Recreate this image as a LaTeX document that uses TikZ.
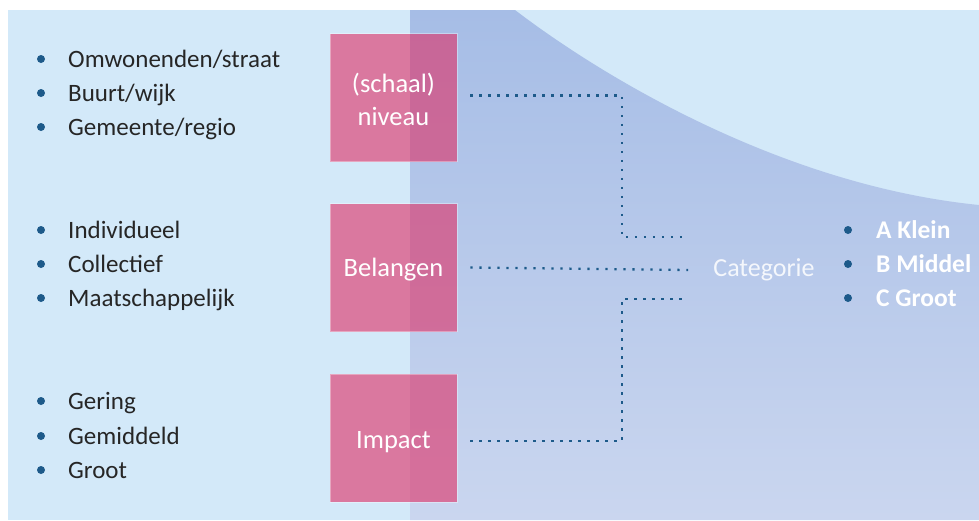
\documentclass[tikz,border=0pt]{standalone}
\usepackage{fontspec}
\setmainfont{Carlito}
\usetikzlibrary{positioning}

\definecolor{lichtblauw}{HTML}{D3E9F9}
\definecolor{vlakboven}{HTML}{A6BDE6}
\definecolor{vlakonder}{HTML}{CAD6EF}
\definecolor{roze}{HTML}{E0285F}
\definecolor{stipblauw}{HTML}{1D5A8A}
\definecolor{tekstgrijs}{HTML}{262626}

\begin{document}
\begin{tikzpicture}[x=1pt,y=-1pt,
  every node/.style={inner sep=0pt},
  vak/.style={fill=roze,fill opacity=0.58,draw=white,draw opacity=0.35,line width=0.6pt,
    minimum width=127pt,minimum height=128pt},
  vaktekst/.style={text=white,align=center,font=\fontsize{26.5}{33}\selectfont},
  item/.style={anchor=base west,text=tekstgrijs,font=\fontsize{25}{29}\selectfont},
  klasse/.style={anchor=base west,text=white,font=\bfseries\fontsize{25.5}{29}\selectfont},
  bol/.style={fill=stipblauw},
  stip/.style={draw=stipblauw,line width=2.3pt,dash pattern=on 2.3pt off 6.7pt}]
\useasboundingbox (0,0) rectangle (979,520);

% achtergrond
\fill[lichtblauw] (8,10) rectangle (979,520);
\shade[top color=vlakboven,bottom color=vlakonder]
  (410,10) -- (515,10) .. controls (600,75) and (780,185) .. (979,205)
  -- (979,520) -- (410,520) -- cycle;

% vakken
\node[vak] (niveau) at (393.5,97.5) {};
\node[vak] (belang) at (393.5,267.5) {};
\node[vak] (impact) at (393.5,438) {};
\node[vaktekst] (tniveau) at ([yshift=-2pt]niveau) {(schaal)\\niveau};
\node[vaktekst,anchor=base] (tbelang) at ([yshift=-9pt]belang) {Belangen};
\node[vaktekst,anchor=base] (timpact) at ([yshift=-10pt]impact) {Impact};

% lijstjes links
\node[item] (n1) at (68,67) {Omwonenden/straat};
\node[item] (n2) at (68,101) {Buurt/wijk};
\node[item] (n3) at (68,135) {Gemeente/regio};
\node[item] (b1) at (68,238) {Individueel};
\node[item] (b2) at (68,272) {Collectief};
\node[item] (b3) at (68,306) {Maatschappelijk};
\node[item] (i1) at (68,409) {Gering};
\node[item] (i2) at (68,444) {Gemiddeld};
\node[item] (i3) at (68,478) {Groot};
\foreach \n in {n1,n2,n3,b1,b2,b3,i1,i2,i3}
  \fill[bol] ([xshift=-27pt,yshift=8pt]\n.base west) circle (4pt);

% categorie
\node[text=white,text opacity=0.85,font=\fontsize{26}{30}\selectfont] (cat) at (764,270) {Categorie};
\node[klasse] (kA) at (876,238) {A Klein};
\node[klasse] (kB) at (876,272) {B Middel};
\node[klasse] (kC) at (876,306) {C Groot};
\foreach \n in {kA,kB,kC}
  \fill[bol] ([xshift=-28pt,yshift=8pt]\n.base west) circle (4pt);

% stippellijnen
\coordinate (knik) at (622,0);
\coordinate (cboven) at ([xshift=-27pt,yshift=33pt]cat.west);
\coordinate (conder) at ([xshift=-27pt,yshift=-29pt]cat.west);
\draw[stip] ([xshift=13pt,yshift=2pt]niveau.east) -- ([yshift=2pt]niveau.east -| knik) |- (cboven);
\draw[stip] ([xshift=13pt]belang.east) -- ([xshift=-25pt]cat.west);
\draw[stip] ([xshift=13pt,yshift=-3pt]impact.east) -- ([yshift=-3pt]impact.east -| knik) |- (conder);
\end{tikzpicture}
\end{document}
